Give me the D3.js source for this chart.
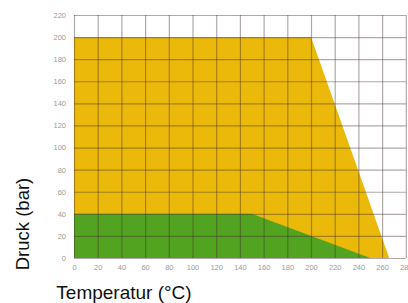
<!DOCTYPE html>
<html><head><meta charset="utf-8">
<script src="https://cdn.jsdelivr.net/npm/d3@7"></script>
<style>body{margin:0;background:#fff}</style>
</head><body>
<svg id="c" width="408" height="303"></svg>
<script>
const xTicks = [0,20,40,60,80,100,120,140,160,180,200,220,240,260,280];
const yTicks = [0,20,40,60,80,100,120,140,160,180,200,220];
// yellow region: max operating pressure vs temperature
const yellowT = [0,200,266,0];
const yellowP = [200,200,0,0];
// green region
const greenT = [0,150,250,0];
const greenP = [40,40,0,0];
const xTitle = "Temperatur (°C)";
const yTitle = "Druck (bar)";

const svg = d3.select("#c");
const x = d3.scaleLinear().domain([0,280]).range([74,405.8]);
const y = d3.scaleLinear().domain([0,220]).range([258,15]);

const line = d3.line().x(d=>x(d[0])).y(d=>y(d[1]));
const toPts = (T,P)=>T.map((t,i)=>[t,P[i]]);

svg.append("path").attr("d", line(toPts(yellowT,yellowP))+"Z").attr("fill","#EAB90A");
svg.append("path").attr("d", line(toPts(greenT,greenP))+"Z").attr("fill","#52A320");

const gx = svg.append("g").attr("transform",`translate(0,${y(0)})`)
  .call(d3.axisBottom(x).tickValues(xTicks).tickSize(-(y(0)-y(220))).tickFormat(d3.format("d")).tickPadding(7));
const gy = svg.append("g").attr("transform",`translate(${x(0)},0)`)
  .call(d3.axisLeft(y).tickValues(yTicks).tickSize(-(x(280)-x(0))).tickFormat(d3.format("d")).tickPadding(8));
[gx,gy].forEach(g=>{
  g.select(".domain").remove();
  g.selectAll("line").attr("stroke","rgba(70,50,50,0.42)").attr("stroke-width",1.2);
  g.selectAll("text").attr("fill","#9a9a9a").attr("font-size","7.5px").attr("font-family","Liberation Sans, Arial, sans-serif");
});

svg.append("text").attr("x",124).attr("y",299).attr("text-anchor","middle")
  .attr("font-family","Liberation Sans, Arial, sans-serif").attr("font-size","19px").attr("fill","#111").text(xTitle);
svg.append("text").attr("transform","translate(29,224) rotate(-90)").attr("text-anchor","middle")
  .attr("font-family","Liberation Sans, Arial, sans-serif").attr("font-size","18.5px").attr("fill","#111").text(yTitle);
</script>
</body></html>
